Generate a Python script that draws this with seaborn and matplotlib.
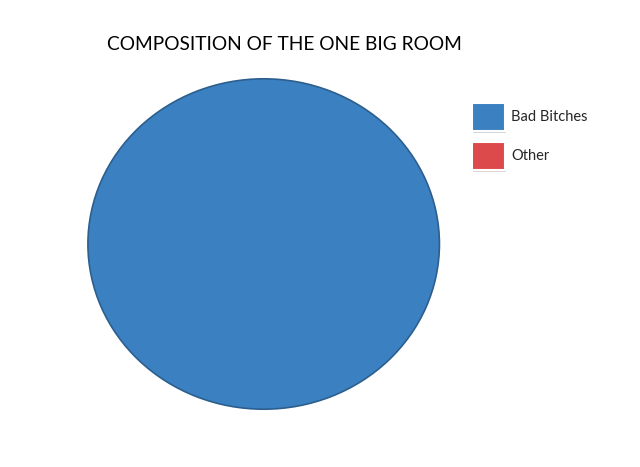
import matplotlib.pyplot as plt
import matplotlib.patheffects as pe
import seaborn as sns
from matplotlib.patches import Patch

# data
labels = ["Bad Bitches", "Other"]
values = [100, 0]
colors = ["#3b80c1", "#dc4a4c"]
title = "COMPOSITION OF THE ONE BIG ROOM"

sns.set_theme(style="white")
plt.rcParams['font.family'] = ['Lato', 'DejaVu Sans']

fig = plt.figure(figsize=(6.4, 4.67), dpi=100)
ax = fig.add_axes([0.136, 0.122, 0.552, 0.711])

# width=1 keeps the full slice free of a radial seam
wedges, _ = ax.pie(values, colors=colors, startangle=90, counterclock=False,
                   wedgeprops=dict(edgecolor="#2c5f8e", linewidth=1.2, width=1))
for w, v in zip(wedges, values):
    if v == 0:
        w.set_linewidth(0)
ax.set_aspect('auto')
ax.set_xlim(-1.005, 1.005)
ax.set_ylim(-1.005, 1.005)
ax.axis('off')

fig.text(0.445, 0.904, title, ha='center', va='center', fontsize=13.8, color='black')

handles = [Patch(facecolor=c, edgecolor='white', linewidth=1.5) for c in colors]
leg = fig.legend(handles, labels, loc='upper left', bbox_to_anchor=(0.737, 0.78),
                 frameon=False, fontsize=10.5, handlelength=2.3, handleheight=2.6,
                 labelspacing=0.75, handletextpad=0.42, borderpad=0, borderaxespad=0)
for h in leg.legend_handles:
    h.set_path_effects([pe.SimplePatchShadow(offset=(0.8, -1.2), alpha=0.18), pe.Normal()])

fig.savefig("out.png", dpi=100, facecolor='white')
